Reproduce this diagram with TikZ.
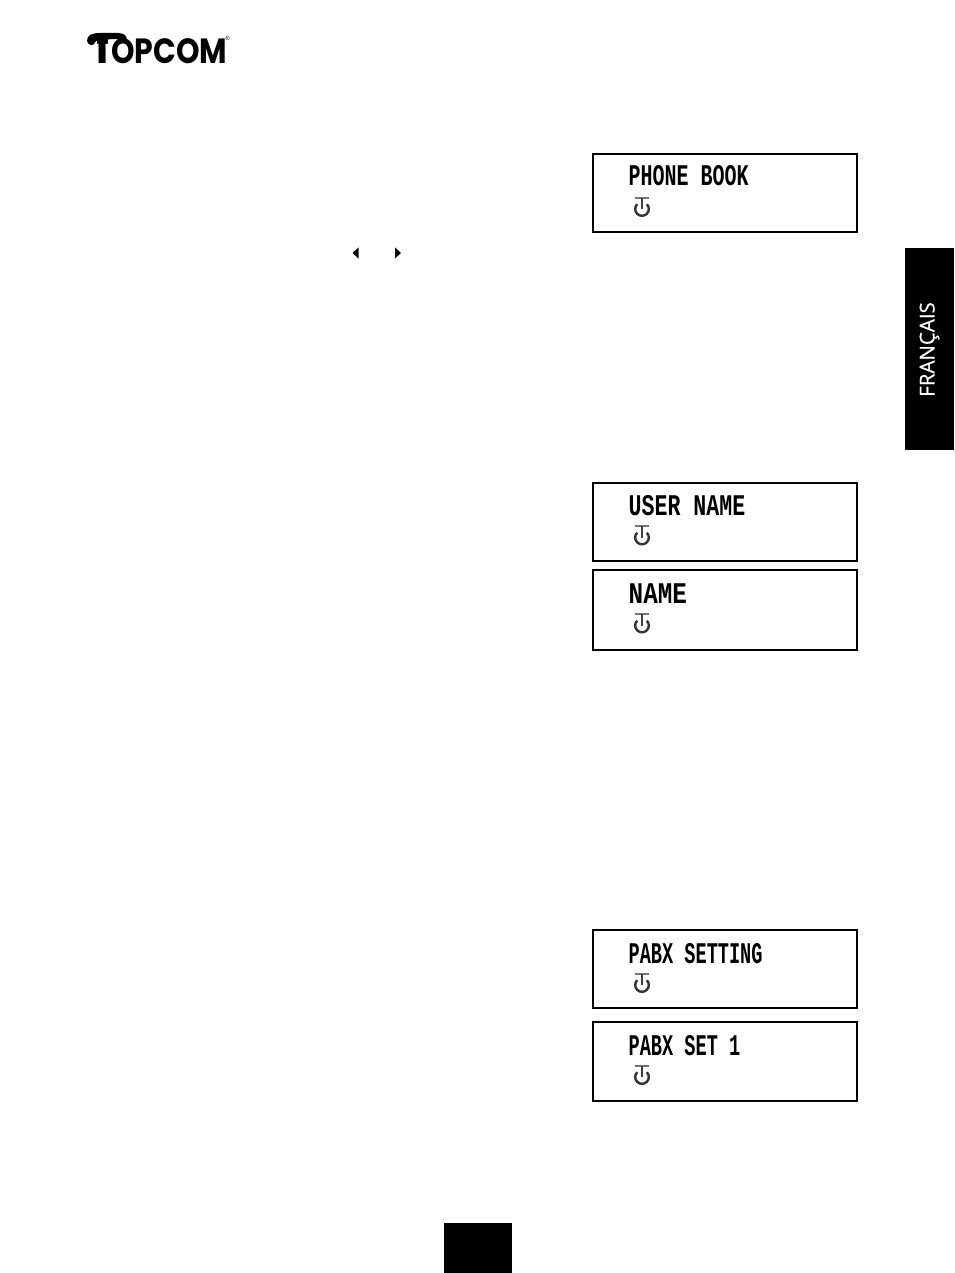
\documentclass[tikz,border=0pt]{standalone}
\usepackage{fontspec}
\setmainfont{Liberation Sans}
\newfontfamily\lcdfont{Liberation Mono Bold}
\newfontfamily\logofont{Poppins Bold}
\newfontfamily\tabfont{Open Sans}[FakeBold=0.5]
\tikzset{
  lcdbox/.style={draw=black,line width=2pt,fill=white,minimum width=264pt,inner sep=0pt,anchor=north west},
  lcdtext/.style={inner sep=0pt,anchor=base west,font=\lcdfont\fontsize{30}{30}\selectfont,transform shape},
  blackblock/.style={fill=black,draw=none,inner sep=0pt,anchor=north west},
  timer/.pic={
    \draw[line width=2.4pt,black!80] (-4.8,-1.8) arc[start angle=225,end angle=-45,radius=6.8];
    \draw[line width=1.8pt,black!55] (-7,-8.2) -- (7,-8.2);
    \draw[line width=2.4pt,black!75] (0,-8.2) -- (0,3);
  }
}
\newcommand{\lcdpanel}[7]{% name, top y, height, text, text base y, xscale, timer y
  \node[lcdbox,minimum height=#3pt] (#1) at (591.5,#2) {};
  \node[lcdtext,xscale=#6] (#1t) at (628.5,#5) {#4};
  \pic at (642,#7) {timer};
}
\begin{document}
\begin{tikzpicture}[x=1pt,y=-1pt]
\useasboundingbox (0,0) rectangle (954,1273);
\fill[white] (0,0) rectangle (954,1273);

% logo
\begin{scope}
  \clip (97.5,38) rectangle (107.5,70);
  \node[inner sep=0pt,anchor=base,font=\logofont\fontsize{34}{34}\selectfont,xscale=1.2,transform shape] (logot) at (102.5,63.5) {T};
\end{scope}
\node[inner sep=0pt,anchor=base west,font=\logofont\fontsize{35}{35}\selectfont,xscale=.855,transform shape] (logo) at (111,64) {OPCOM};
\fill[black] (87,41) .. controls (87,35) and (92,33) .. (100,33) -- (118,33)
  .. controls (124,33) and (127,36) .. (127,40) -- (127,43) -- (121,43)
  .. controls (120,40) and (118,39) .. (114,39) -- (100,40)
  .. controls (96,40) and (95,42) .. (94,44) .. controls (92,46) and (88,45) .. (87,41) -- cycle;
\node[inner sep=0pt,font=\fontsize{6}{6}\selectfont] (reg) at (227.5,38.5) {®};

% panels
\lcdpanel{p1}{153}{78.5}{PHONE BOOK}{186}{.667}{206}
\lcdpanel{p2}{481.5}{78.5}{USER NAME}{515}{.72}{534.5}
\lcdpanel{p3}{569}{79.5}{NAME}{603}{.81}{622.5}
\lcdpanel{p4}{929}{78}{PABX SETTING}{963}{.62}{982}
\lcdpanel{p5}{1021}{79}{PABX SET 1}{1055}{.62}{1074}

% arrow glyphs
\fill[black] (358.5,247.5) -- (358.5,258.5) -- (352.5,253) -- cycle;
\fill[black] (395,247.5) -- (395,258.5) -- (401,253) -- cycle;

% language tab
\node[blackblock,minimum width=49pt,minimum height=202pt] (tab) at (905,248) {};
\node[inner sep=0pt,text=white,rotate=90,font=\tabfont\fontsize{20.5}{21}\selectfont] (lang) at (929.5,349.5) {FRANÇAIS};

% page number block
\node[blackblock,minimum width=68pt,minimum height=50pt] (pg) at (444,1223) {};
\end{tikzpicture}
\end{document}
